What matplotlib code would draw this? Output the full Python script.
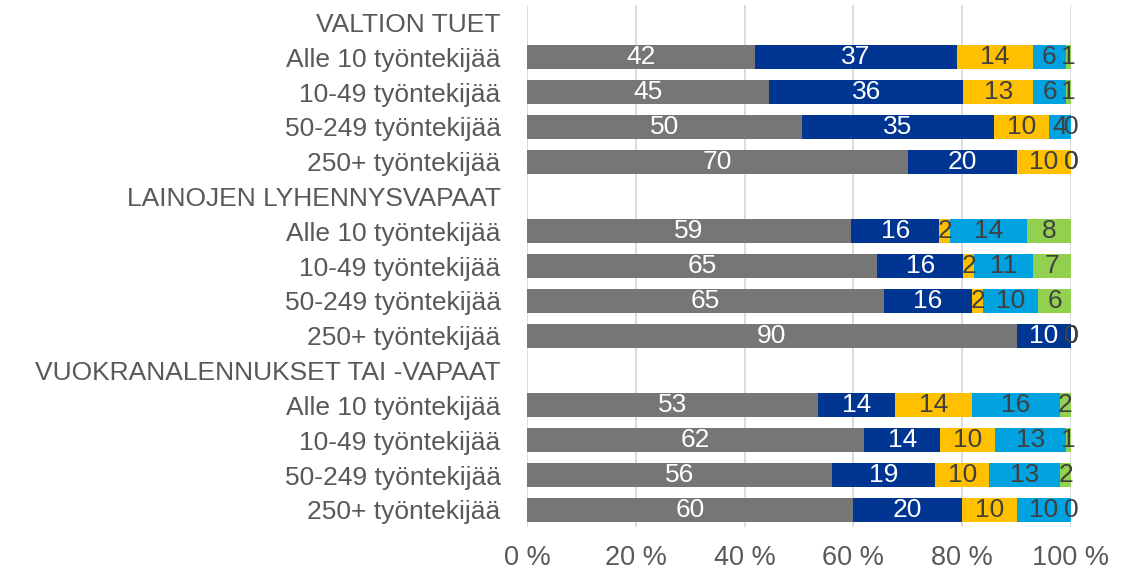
import numpy as np
import matplotlib
matplotlib.use('Agg')
import matplotlib.pyplot as plt

plt.rcParams['font.family'] = ['Liberation Sans', 'DejaVu Sans']

# Rivit: otsikkorivit (ei palkkeja) ja kokoluokat
rivit = ['VALTION TUET', 'Alle 10 työntekijää', '10-49 työntekijää', '50-249 työntekijää', '250+ työntekijää',
         'LAINOJEN LYHENNYSVAPAAT', 'Alle 10 työntekijää', '10-49 työntekijää', '50-249 työntekijää', '250+ työntekijää',
         'VUOKRANALENNUKSET TAI -VAPAAT', 'Alle 10 työntekijää', '10-49 työntekijää', '50-249 työntekijää', '250+ työntekijää']

# Sarjat (None = otsikkorivi)
sarja1 = [None, 42, 45, 50, 70, None, 59, 65, 65, 90, None, 53, 62, 56, 60]
sarja2 = [None, 37, 36, 35, 20, None, 16, 16, 16, 10, None, 14, 14, 19, 20]
sarja3 = [None, 14, 13, 10, 10, None, 2, 2, 2, 0, None, 14, 10, 10, 10]
sarja4 = [None, 6, 6, 4, 0, None, 14, 11, 10, 0, None, 16, 13, 13, 10]
sarja5 = [None, 1, 1, 0, 0, None, 8, 7, 6, 0, None, 2, 1, 2, 0]

sarjat = [sarja1, sarja2, sarja3, sarja4, sarja5]
varit = ['#767676', '#003591', '#FFC000', '#00A3E0', '#92D050']
tekstivarit = ['white', 'white', '#404040', '#404040', '#404040']

fig = plt.figure(figsize=(11.35, 5.7), dpi=100)
ax = fig.add_axes([0.4643, 0.075, 0.4793, 0.916])

y = np.arange(len(rivit))
for i in range(len(rivit)):
    if sarja1[i] is None:
        continue
    arvot = [s[i] for s in sarjat]
    summa = sum(arvot)
    vasen = 0.0
    for j, v in enumerate(arvot):
        w = v / summa * 100
        ax.barh(y[i], w, left=vasen, height=0.69, color=varit[j], zorder=2)
        ax.text(vasen + w / 2, y[i], str(v), ha='center', va='center',
                fontsize=19, color=tekstivarit[j], zorder=3)
        vasen += w

ax.set_xlim(0, 100)
ax.set_ylim(len(rivit) - 0.5, -0.5)
ax.set_xticks(np.arange(0, 101, 20))
ax.set_xticklabels([f'{v} %' for v in range(0, 101, 20)], fontsize=19.5, color='#595959')
ax.set_yticks(y)
ax.set_yticklabels(rivit, fontsize=19, color='#595959')
ax.tick_params(axis='both', length=0)
ax.tick_params(axis='y', pad=19)
ax.tick_params(axis='x', pad=13)
ax.grid(axis='x', color='#d9d9d9', linewidth=1.3, zorder=0)
for s in ax.spines.values():
    s.set_visible(False)

plt.savefig('out.png', dpi=100)
